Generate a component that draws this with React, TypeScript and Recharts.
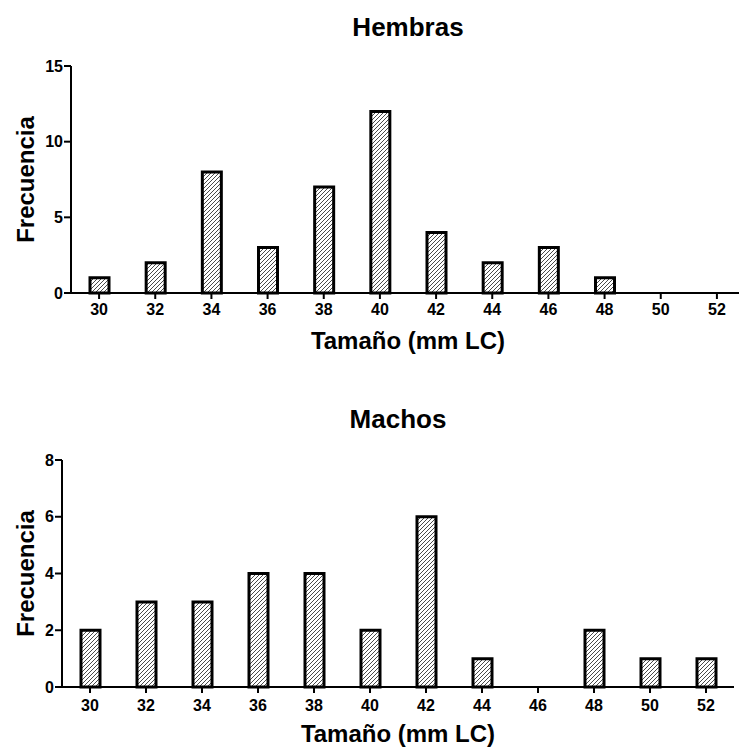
import { Bar, BarChart, XAxis, YAxis } from "recharts";

// Tamaño (mm LC) classes
const sizes = ["30", "32", "34", "36", "38", "40", "42", "44", "46", "48", "50", "52"];
// frequencies per class
const hembras = [1, 2, 8, 3, 7, 12, 4, 2, 3, 1, 0, 0];
const machos = [2, 3, 3, 4, 4, 2, 6, 1, 0, 2, 1, 1];
const hembrasTicks = [0, 5, 10, 15];
const machosTicks = [0, 2, 4, 6, 8];

const FONT = '"Liberation Sans", Arial, Helvetica, sans-serif';
const CHART_H = 360;
const PLOT_TOP = 66;
const PLOT_H = 227;

type Props = {
  title: string;
  counts: number[];
  yMax: number;
  yTicks: number[];
  yAxisWidth: number;
  chartWidth: number;
  top: number;
  titleTop: number;
  xTickMargin: number;
  labelOffset: number;
  patternId: string;
};

const tickStyle = { fill: "#000", fontSize: 16, fontWeight: 700, fontFamily: FONT };

function Histogram({
  title,
  counts,
  yMax,
  yTicks,
  yAxisWidth,
  chartWidth,
  top,
  titleTop,
  xTickMargin,
  labelOffset,
  patternId,
}: Props) {
  const data = sizes.map((size, i) => ({ size, count: counts[i] }));
  const plotCenterX = yAxisWidth + (chartWidth - yAxisWidth - 5) / 2;
  const plotBottom = PLOT_TOP + PLOT_H;

  return (
    <div style={{ position: "absolute", left: 0, top, width: chartWidth, height: CHART_H }}>
      <div
        style={{
          position: "absolute",
          left: plotCenterX - 150,
          top: titleTop,
          width: 300,
          textAlign: "center",
          fontFamily: FONT,
          fontWeight: 700,
          fontSize: 26,
          lineHeight: "30px",
          color: "#000",
        }}
      >
        {title}
      </div>
      <BarChart
        width={chartWidth}
        height={CHART_H}
        data={data}
        margin={{ top: PLOT_TOP, right: 5, left: 0, bottom: 0 }}
      >
        <defs>
          <pattern id={patternId} patternUnits="userSpaceOnUse" width={4} height={4}>
            <rect width={4} height={4} fill="#fff" />
            <path d="M-1,1 l2,-2 M0,4 l4,-4 M3,5 l2,-2" stroke="#4a4a4a" strokeWidth={1} />
          </pattern>
        </defs>
        <XAxis
          dataKey="size"
          interval={0}
          height={CHART_H - PLOT_TOP - PLOT_H}
          tickSize={6}
          tickMargin={xTickMargin}
          fontSize={16}
          tick={tickStyle}
          axisLine={{ stroke: "#000", strokeWidth: 2 }}
          tickLine={{ stroke: "#000", strokeWidth: 2 }}
          label={() => (
            <text
              x={plotCenterX}
              y={plotBottom + labelOffset}
              textAnchor="middle"
              fontFamily={FONT}
              fontWeight={700}
              fontSize={24}
              fill="#000"
            >
              Tamaño (mm LC)
            </text>
          )}
        />
        <YAxis
          width={yAxisWidth}
          domain={[0, yMax]}
          ticks={yTicks}
          tickSize={7}
          tickMargin={1}
          fontSize={16}
          tick={tickStyle}
          axisLine={{ stroke: "#000", strokeWidth: 2 }}
          tickLine={{ stroke: "#000", strokeWidth: 2 }}
          label={() => (
            <text
              x={25}
              y={PLOT_TOP + PLOT_H / 2}
              transform={`rotate(-90, 25, ${PLOT_TOP + PLOT_H / 2})`}
              textAnchor="middle"
              dominantBaseline="central"
              fontFamily={FONT}
              fontWeight={700}
              fontSize={24}
              fill="#000"
            >
              Frecuencia
            </text>
          )}
        />
        <Bar
          dataKey="count"
          barSize={19}
          fill={`url(#${patternId})`}
          stroke="#000"
          strokeWidth={3}
          isAnimationActive={false}
        />
      </BarChart>
    </div>
  );
}

export default function App() {
  return (
    <div
      style={{
        position: "fixed",
        left: 0,
        top: 0,
        width: 739,
        height: 747,
        overflow: "hidden",
        background: "#fff",
      }}
    >
      <Histogram
        title="Hembras"
        counts={hembras}
        yMax={15}
        yTicks={hembrasTicks}
        yAxisWidth={71}
        chartWidth={750}
        top={0}
        titleTop={12}
        xTickMargin={5}
        labelOffset={56}
        patternId="hatchH"
      />
      <Histogram
        title="Machos"
        counts={machos}
        yMax={8}
        yTicks={machosTicks}
        yAxisWidth={62}
        chartWidth={739}
        top={394}
        titleTop={10}
        xTickMargin={7}
        labelOffset={55}
        patternId="hatchM"
      />
    </div>
  );
}
